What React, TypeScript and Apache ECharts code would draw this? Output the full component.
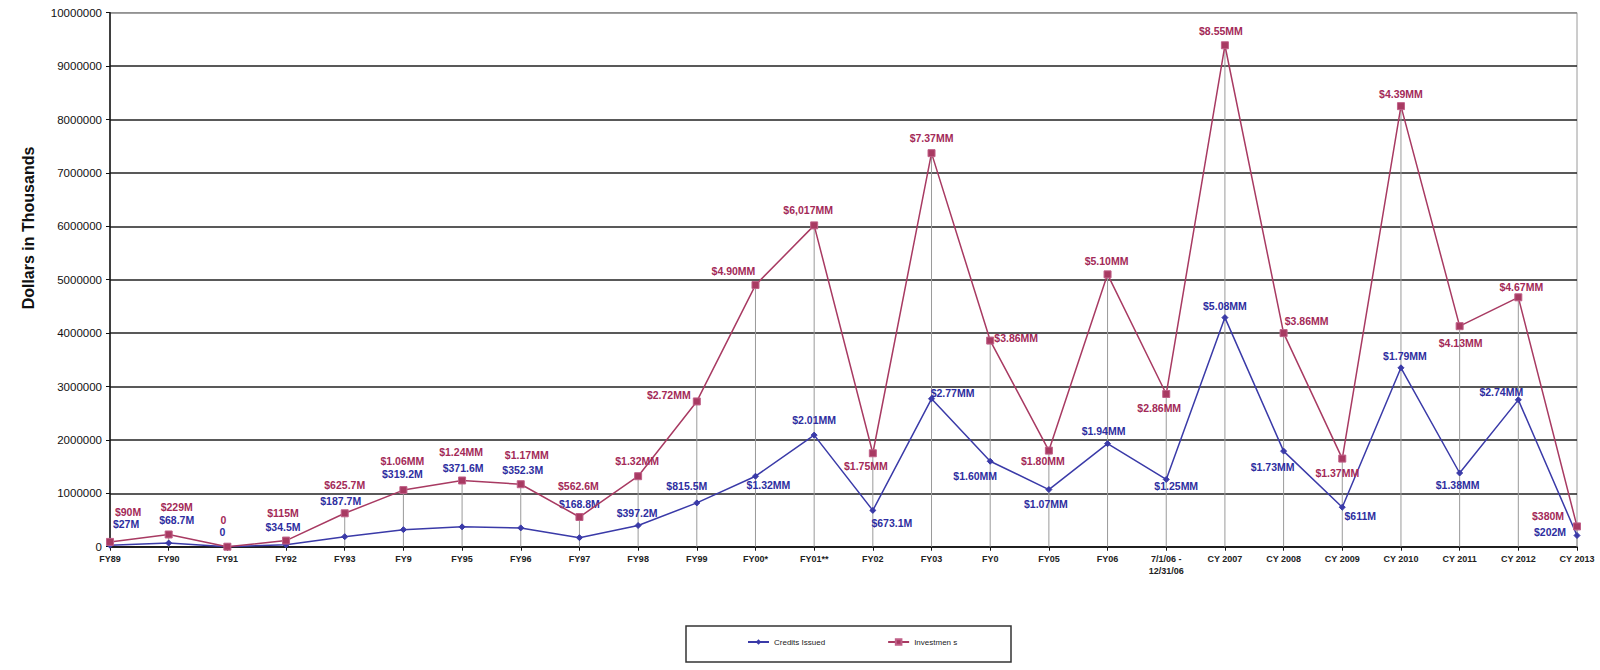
import React, { useEffect, useRef } from "react";
import * as echarts from "echarts";

const categories = [
  "FY89", "FY90", "FY91", "FY92", "FY93", "FY9", "FY95", "FY96", "FY97", "FY98",
  "FY99", "FY00*", "FY01**", "FY02", "FY03", "FY0", "FY05", "FY06",
  "7/1/06 -\n12/31/06", "CY 2007", "CY 2008", "CY 2009", "CY 2010", "CY 2011", "CY 2012", "CY 2013",
];

const credits = [
  27000, 68700, 0, 34500, 187700, 319200, 371600, 352300, 168800, 397200,
  820000, 1320000, 2090000, 680000, 2770000, 1600000, 1070000, 1930000,
  1260000, 4290000, 1790000, 740000, 3350000, 1380000, 2750000, 210000,
];

const investments = [
  90000, 229000, 0, 115000, 625700, 1060000, 1240000, 1170000, 556000, 1320000,
  2720000, 4900000, 6017000, 1750000, 7370000, 3860000, 1800000, 5100000,
  2860000, 9390000, 4000000, 1650000, 8250000, 4130000, 4670000, 380000,
];

const creditLabels = [
  "$27M", "$68.7M", "0", "$34.5M", "$187.7M", "$319.2M", "$371.6M", "$352.3M", "$168.8M", "$397.2M",
  "$815.5M", "$1.32MM", "$2.01MM", "$673.1M", "$2.77MM", "$1.60MM", "$1.07MM", "$1.94MM",
  "$1.25MM", "$5.08MM", "$1.73MM", "$611M", "$1.79MM", "$1.38MM", "$2.74MM", "$202M",
];

const investLabels = [
  "$90M", "$229M", "0", "$115M", "$625.7M", "$1.06MM", "$1.24MM", "$1.17MM", "$562.6M", "$1.32MM",
  "$2.72MM", "$4.90MM", "$6,017MM", "$1.75MM", "$7.37MM", "$3.86MM", "$1.80MM", "$5.10MM",
  "$2.86MM", "$8.55MM", "$3.86MM", "$1.37MM", "$4.39MM", "$4.13MM", "$4.67MM", "$380M",
];

const yTicks = [0, 1000000, 2000000, 3000000, 4000000, 5000000, 6000000, 7000000, 8000000, 9000000, 10000000];

// label placement offsets (label centre relative to point), pixels
const creditLabelOffset: [number, number][] = [
  [16, -21], [8, -23], [-5, -15], [-3, -18], [-4, -36], [-1, -56], [1, -59], [2, -58], [0, -34], [-1, -12],
  [-10, -17], [13, 9], [0, -15], [19, 13], [21, -6], [-15, 15], [-3, 14], [-4, -13],
  [10, 7], [0, -12], [-11, 16], [18, 9], [4, -12], [-2, 12], [-17, -8], [-27, -3],
];
const investLabelOffset: [number, number][] = [
  [18, -30], [8, -27], [-4, -27], [-3, -28], [0, -28], [-1, -29], [-1, -28], [6, -29], [-1, -31], [-1, -15],
  [-28, -6], [-22, -14], [-6, -15], [-7, 13], [0, -15], [26, -3], [-6, 10], [-1, -13],
  [-7, 14], [-4, -14], [23, -12], [-5, 14], [0, -12], [1, 17], [3, -10], [-29, -10],
];

const BLUE = "#3a3aa8";
const BLUE_TXT = "#2e2ea0";
const RED = "#a83a62";
const RED_TXT = "#a32a58";
const FONT = "'Liberation Sans', Arial, sans-serif";

export default function App() {
  const ref = useRef<HTMLDivElement>(null);

  useEffect(() => {
    if (!ref.current) return;
    const chart = echarts.init(ref.current, null, { renderer: "svg" });

    const labelStyle = (color: string) => ({
      show: true,
      position: "inside",
      align: "center",
      verticalAlign: "middle",
      color,
      fontFamily: FONT,
      fontWeight: "bold",
      fontSize: 10.5,
    });

    const creditData = credits.map((v, i) => ({
      value: v,
      label: { ...labelStyle(BLUE_TXT), formatter: creditLabels[i], offset: creditLabelOffset[i] },
    }));
    const investData = investments.map((v, i) => ({
      value: v,
      label: { ...labelStyle(RED_TXT), formatter: investLabels[i], offset: investLabelOffset[i] },
    }));
    const dropData = categories.map((_, i) => [i, Math.max(credits[i], investments[i])]);

    const option: any = {
      animation: false,
      backgroundColor: "#ffffff",
      textStyle: { fontFamily: FONT },
      grid: {
        left: 110,
        right: 23,
        top: 12.7,
        bottom: 123.3,
        show: true,
        borderColor: "#9a9a9a",
        borderWidth: 1,
        backgroundColor: "transparent",
      },
      legend: {
        show: true,
        left: 747,
        top: 638,
        itemWidth: 21,
        itemHeight: 7,
        itemGap: 62,
        padding: 0,
        textStyle: { fontSize: 8, color: "#222", fontFamily: FONT },
        data: ["Credits Issued", "Investmen s"],
      },
      graphic: [
        {
          type: "rect",
          shape: { x: 686, y: 626, width: 325, height: 36 },
          style: { fill: "none", stroke: "#333", lineWidth: 1.5 },
          silent: true,
        },
        {
          type: "text",
          x: 28,
          y: 228,
          rotation: Math.PI / 2,
          style: {
            text: "Dollars in Thousands",
            font: `bold 16px ${FONT}`,
            fill: "#111",
            align: "center",
            verticalAlign: "middle",
          },
          silent: true,
        },
      ],
      xAxis: {
        type: "category",
        data: categories,
        boundaryGap: false,
        axisLine: { show: true, lineStyle: { color: "#111", width: 1.5 } },
        axisTick: { show: true, length: 4, lineStyle: { color: "#111" } },
        axisLabel: {
          interval: 0,
          margin: 6,
          fontSize: 9,
          fontWeight: "bold",
          color: "#222",
          fontFamily: FONT,
          lineHeight: 12,
        },
        splitLine: { show: false },
      },
      yAxis: {
        type: "value",
        min: yTicks[0],
        max: yTicks[yTicks.length - 1],
        interval: yTicks[1] - yTicks[0],
        axisLine: { show: true, lineStyle: { color: "#111", width: 1.5 } },
        axisTick: { show: true, length: 4, lineStyle: { color: "#111" } },
        axisLabel: {
          margin: 8,
          fontSize: 11.5,
          color: "#111",
          fontFamily: FONT,
          formatter: (v: number) => String(v),
        },
        splitLine: {
          show: true,
          lineStyle: {
            color: ["#222", "#222", "#222", "#222", "#222", "#222", "#222", "#222", "#222", "#222", "#8a8a8a"],
            width: 1.6,
          },
        },
      },
      series: [
        {
          type: "custom",
          name: "drop",
          z: 1,
          silent: true,
          data: dropData,
          renderItem: (params: any, api: any) => {
            const idx = api.value(0);
            const top = api.coord([idx, api.value(1)]);
            const bot = api.coord([idx, 0]);
            return {
              type: "line",
              shape: { x1: top[0], y1: top[1], x2: bot[0], y2: bot[1] },
              style: { stroke: "#9a9a9a", lineWidth: 1 },
            };
          },
        },
        {
          type: "line",
          name: "Credits Issued",
          z: 3,
          data: creditData,
          symbol: "diamond",
          symbolSize: 6,
          showAllSymbol: true,
          lineStyle: { color: BLUE, width: 1.5 },
          itemStyle: { color: BLUE, borderColor: BLUE },
        },
        {
          type: "line",
          name: "Investmen s",
          z: 4,
          data: investData,
          symbol: "rect",
          symbolSize: 7,
          showAllSymbol: true,
          lineStyle: { color: RED, width: 1.5 },
          itemStyle: { color: RED, borderColor: "#c06088", borderWidth: 1 },
        },
      ],
    };

    chart.setOption(option);
    return () => chart.dispose();
  }, []);

  return (
    <div
      ref={ref}
      style={{ position: "fixed", left: 0, top: 0, width: 1600, height: 670, background: "#fff" }}
    />
  );
}
